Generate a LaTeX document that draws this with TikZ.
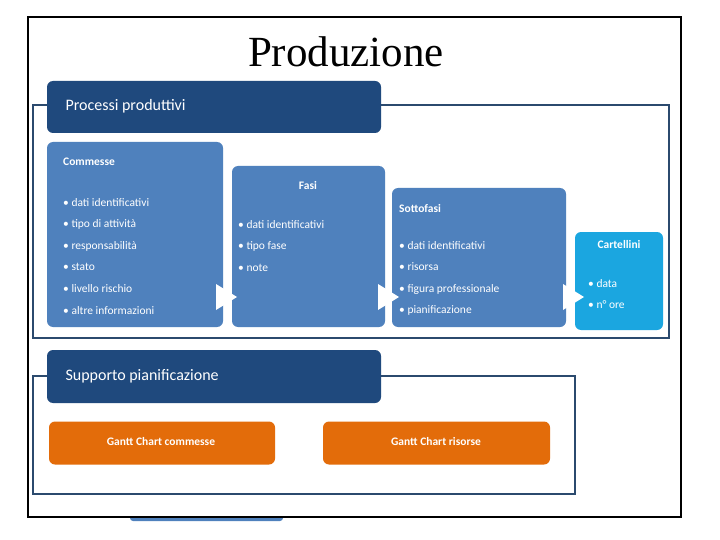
\documentclass[tikz,border=0pt]{standalone}
\usepackage{fontspec}
\setmainfont{Carlito}
\newfontfamily\titlefont{Liberation Serif}
\definecolor{dkb}{HTML}{1F497D}
\definecolor{mdb}{HTML}{4F81BD}
\definecolor{cyb}{HTML}{1BA6E0}
\definecolor{orn}{HTML}{E36C0A}
\definecolor{brk}{HTML}{2B4A6E}
\begin{document}
\begin{tikzpicture}[x=1pt,y=-1pt,
  hdr/.style={fill=dkb,rounded corners=6pt,draw=none},
  bx/.style={fill=mdb,rounded corners=6pt,draw=none},
  gant/.style={fill=orn,rounded corners=6pt,draw=none},
  brack/.style={draw=brk,line width=1.3pt},
  txt/.style={text=white,font=\fontsize{11.5}{21.6}\selectfont,align=left,inner sep=0pt},
  bold/.style={text=white,font=\bfseries\fontsize{11.5}{14}\selectfont,inner sep=0pt},
  tri/.style={fill=white,draw=none}]
\useasboundingbox (0,0) rectangle (720,540);
% sliver below frame
\fill[mdb,rounded corners=3pt] (130,505) rectangle (283,521);
\fill[white] (29,18) rectangle (680,516);
% outer frame
\draw[line width=1.6pt] (28,17) rectangle (681,517);
\node[font=\titlefont\fontsize{43}{48}\selectfont] (title) at (346,52) {Produzione};
% bracket 1
\draw[brack] (47,105) -- (33,105) -- (33,338) -- (669,338) -- (669,105) -- (381,105);
\node[hdr,minimum width=334pt,minimum height=52pt] (pp) at (214,107) {};
\node[text=white,font=\fontsize{16}{18}\selectfont,anchor=west] (ppt) at (62,106) {Processi produttivi};
% boxes
\fill[mdb,rounded corners=6pt] (47,142) rectangle (223,327);
\fill[mdb,rounded corners=6pt] (232,166) rectangle (385,327);
\fill[mdb,rounded corners=6pt] (392,188) rectangle (566,327);
\fill[cyb,rounded corners=6pt] (575,232) rectangle (663,330);
\node[bold,anchor=base west] (c1) at (63,166) {Commesse};
\node[txt,anchor=north west] (c2) at (63,198) {• dati identificativi\\• tipo di attività\\• responsabilità\\• stato\\• livello rischio\\• altre informazioni};
\node[bold,anchor=base] (f1) at (308,190) {Fasi};
\node[txt,anchor=north west] (f2) at (238,220) {• dati identificativi\\• tipo fase\\• note};
\node[bold,anchor=base west] (s1) at (399,212) {Sottofasi};
\node[txt,anchor=north west] (s2) at (399,241) {• dati identificativi\\• risorsa\\• figura professionale\\• pianificazione};
\node[bold,anchor=base] (k1) at (619,248) {Cartellini};
\node[txt,anchor=north west] (k2) at (588,279) {• data\\• n° ore};
% arrows
\fill[tri] (216,284) -- (237,297) -- (216,310) -- cycle;
\fill[tri] (378,284) -- (399,297) -- (378,310) -- cycle;
\fill[tri] (563,284) -- (584,297) -- (563,310) -- cycle;
% bracket 2
\draw[brack] (47,376) -- (33,376) -- (33,494) -- (575,494) -- (575,376) -- (381,376);
\node[hdr,minimum width=334pt,minimum height=53pt] (sp) at (214,376.5) {};
\node[text=white,font=\fontsize{16}{18}\selectfont,anchor=west] (spt) at (62,376) {Supporto pianificazione};
\node[gant,minimum width=226pt,minimum height=43pt] (g1) at (162,443) {};
\node[bold] (g1t) at (161,442) {Gantt Chart commesse};
\node[gant,minimum width=227pt,minimum height=43pt] (g2) at (436.5,443) {};
\node[bold] (g2t) at (436,442) {Gantt Chart risorse};
\end{tikzpicture}
\end{document}
